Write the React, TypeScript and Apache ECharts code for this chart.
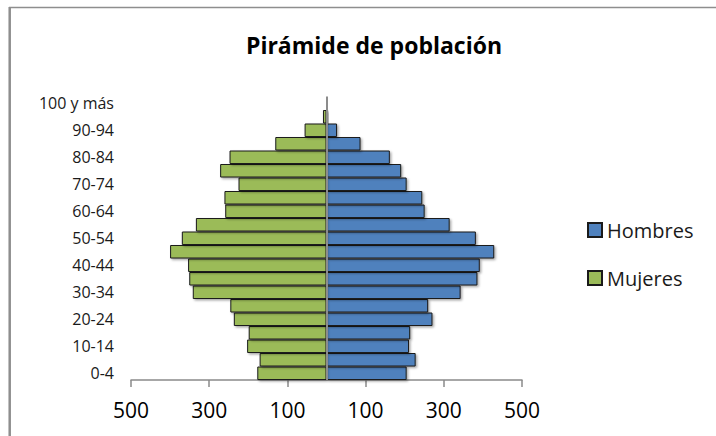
import React, { useEffect, useRef } from "react";
import * as echarts from "echarts";

const categories = [
  "0-4", "5-9", "10-14", "15-19", "20-24", "25-29", "30-34", "35-39",
  "40-44", "45-49", "50-54", "55-59", "60-64", "65-69", "70-74", "75-79",
  "80-84", "85-89", "90-94", "95-99", "100 y más",
];
const hombres = [205, 228, 211, 214, 271, 260, 343, 386, 392, 429, 382, 315, 251, 245, 205, 191, 162, 87, 27, 4, 0.5];
const mujeres = [177, 171, 203, 199, 237, 246, 342, 351, 354, 400, 370, 334, 259, 261, 225, 272, 248, 131, 56, 9, 1];
const tickLabels = ["500", "300", "100", "100", "300", "500"];

const FONT = "'Open Sans', 'Noto Sans', sans-serif";

export default function App() {
  const ref = useRef<HTMLDivElement>(null);
  useEffect(() => {
    if (!ref.current) return;
    const chart = echarts.init(ref.current, null, { renderer: "svg" });
    const barStyle = (color: string) => ({
      color,
      borderColor: "#1a1a1a",
      borderWidth: 1,
      shadowColor: "rgba(0,0,0,0.35)",
      shadowBlur: 2,
      shadowOffsetX: 1.5,
      shadowOffsetY: 1.5,
    });
    chart.setOption({
      animation: false,
      backgroundColor: "#ffffff",
      title: {
        text: "Pirámide de población",
        left: 369,
        top: 28,
        textAlign: "center",
        textStyle: { fontFamily: FONT, fontSize: 23, fontWeight: "bold", color: "#000" },
      },
      legend: {
        orient: "vertical",
        left: 582,
        top: 215,
        icon: "rect",
        itemWidth: 14,
        itemHeight: 14,
        itemGap: 28,
        data: ["Hombres", "Mujeres"],
        textStyle: { fontFamily: FONT, fontSize: 20, color: "#1a1a1a" },
      },
      grid: { left: 131, right: 194, top: 96.5, bottom: 56, containLabel: false },
      xAxis: [
        {
          type: "value",
          min: -500,
          max: 500,
          show: false,
          splitLine: { show: false },
        },
        {
          type: "category",
          data: tickLabels,
          boundaryGap: false,
          position: "bottom",
          axisLine: { show: true, lineStyle: { color: "#8a8a8a", width: 1.5 } },
          axisTick: { show: true, length: 7, alignWithLabel: true, lineStyle: { color: "#8a8a8a", width: 1.5 } },
          axisLabel: { margin: 19, fontFamily: FONT, fontSize: 21, color: "#000", interval: 0 },
          splitLine: { show: false },
        },
      ],
      yAxis: {
        type: "category",
        data: categories,
        axisLine: { show: false },
        axisTick: { show: false },
        axisLabel: { interval: 1, margin: 17, fontFamily: FONT, fontSize: 16, color: "#1a1a1a" },
      },
      series: [
        {
          name: "Hombres",
          type: "bar",
          xAxisIndex: 0,
          data: hombres,
          barCategoryGap: "0%",
          barGap: "-100%",
          itemStyle: barStyle("#4F81BD"),
          markLine: {
            silent: true,
            symbol: "none",
            label: { show: false },
            lineStyle: { color: "#8c8c8c", width: 2, type: "solid" },
            data: [{ xAxis: 0 }],
            z: 10,
          },
        },
        {
          name: "Mujeres",
          type: "bar",
          xAxisIndex: 0,
          data: mujeres.map((v) => -v),
          barCategoryGap: "0%",
          barGap: "-100%",
          itemStyle: barStyle("#9BBB59"),
        },
      ],
      graphic: [
        {
          type: "line",
          shape: { x1: 9, y1: 7.5, x2: 716, y2: 7.5 },
          style: { stroke: "#8e8e8e", lineWidth: 1.5 },
        },
        {
          type: "line",
          shape: { x1: 9.7, y1: 7, x2: 9.7, y2: 436 },
          style: { stroke: "#8e8e8e", lineWidth: 2.5 },
        },
      ],
    });
    return () => chart.dispose();
  }, []);
  return (
    <div
      ref={ref}
      style={{ position: "fixed", left: 0, top: 0, width: 716, height: 436 }}
    />
  );
}
